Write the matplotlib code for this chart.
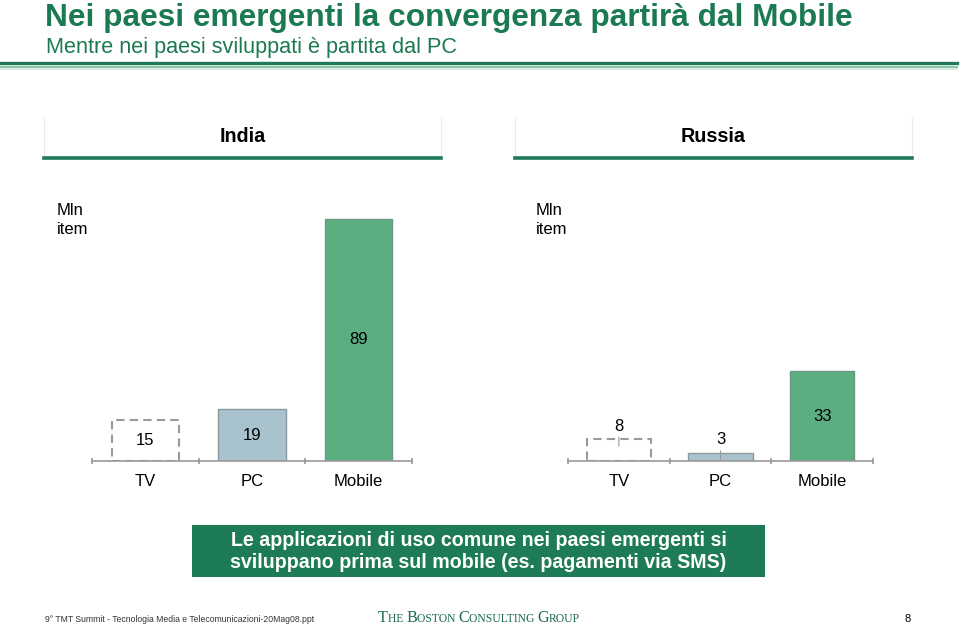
import matplotlib
matplotlib.use("Agg")
import matplotlib.pyplot as plt
from matplotlib.lines import Line2D
from matplotlib.patches import Rectangle

plt.rcParams['font.family'] = ['Liberation Sans', 'DejaVu Sans']

categories = ["TV", "PC", "Mobile"]
india_values = [15, 19, 89]
russia_values = [8, 3, 33]
panel_titles = ["India", "Russia"]
unit_label = "Mln\nitem"
title = "Nei paesi emergenti la convergenza partirà dal Mobile"
subtitle = "Mentre nei paesi sviluppati è partita dal PC"
box_text = "Le applicazioni di uso comune nei paesi emergenti si\nsviluppano prima sul mobile (es. pagamenti via SMS)"
footer_left = "9° TMT Summit - Tecnologia Media e Telecomunicazioni-20Mag08.ppt"
page_number = "8"

W, H = 960, 626
GREEN = "#1b7a52"
fig = plt.figure(figsize=(W / 100, H / 100), dpi=100)


def fx(x):
    return x / W


def fy(y):
    return 1 - y / H


# Title and subtitle
fig.text(fx(45), fy(26), title, fontsize=22.8, fontweight="bold", color=GREEN,
         ha="left", va="baseline")
fig.text(fx(46), fy(53.5), subtitle, fontsize=15.6, color=GREEN, ha="left", va="baseline")

# Title rule
fig.add_artist(Line2D([fx(0), fx(957)], [fy(63), fy(63)], color="#1f7a55", lw=2.4))
fig.add_artist(Line2D([fx(0), fx(957)], [fy(66.5), fy(66.5)], color="#8cc4a6", lw=1.5))
fig.add_artist(Line2D([fx(0), fx(957)], [fy(68.5), fy(68.5)], color="#d2e8dc", lw=1.2))

# Panel headers
headers = [(44, 441), (515, 912)]
for (x0, x1), name in zip(headers, panel_titles):
    for xv in (x0, x1):
        fig.add_artist(Line2D([fx(xv), fx(xv)], [fy(118), fy(157)], color="#ececec", lw=0.8))
    fig.add_artist(Line2D([fx(x0), fx(x1)], [fy(158), fy(158)], color="#1f7a58", lw=2.6))
    fig.text(fx((x0 + x1) / 2), fy(137), name, fontsize=14.2, fontweight="bold",
             color="black", ha="center", va="center")

# Unit labels
fig.text(fx(57), fy(220), unit_label, fontsize=12, ha="left", va="center", linespacing=1.35)
fig.text(fx(536), fy(220), unit_label, fontsize=12, ha="left", va="center", linespacing=1.35)

colors = ["white", "#a8c3ce", "#5aae80"]
edges = ["#9a9a9a", "#8c9aa0", "#6c9880"]
px_per_unit = 2.72
top_px = 200
base_px = 461


def draw_panel(xl, xr, values):
    ax = fig.add_axes([fx(xl), fy(base_px), (xr - xl) / W, (base_px - top_px) / H])
    ax.set_xlim(-0.5, 2.5)
    ax.set_ylim(0, (base_px - top_px) / px_per_unit)
    x = list(range(len(categories)))
    for i, v in enumerate(values):
        if i == 0:
            ax.bar(x[i], v, width=0.63, facecolor="white", edgecolor=edges[i],
                   linestyle=(0, (4, 2.5)), linewidth=1.5, zorder=2)
        else:
            ax.bar(x[i], v, width=0.63, color=colors[i], edgecolor=edges[i],
                   linewidth=1.0, zorder=2)
        if v >= 10:
            ax.text(x[i], v / 2, str(v), ha="center", va="center", fontsize=12, zorder=3)
        else:
            ax.annotate(str(v), xy=(x[i], v), xytext=(0, 13), textcoords="offset pixels",
                        ha="center", va="center", fontsize=12, zorder=3)
            ax.annotate("", xy=(x[i], v - 7 / px_per_unit), xytext=(0, 9),
                        textcoords="offset pixels",
                        arrowprops=dict(arrowstyle="-", color="#999999", lw=0.8,
                                        shrinkA=0, shrinkB=0), zorder=3)
    for s in ["top", "left", "right"]:
        ax.spines[s].set_visible(False)
    ax.spines["bottom"].set_color("#999999")
    ax.spines["bottom"].set_linewidth(1.2)
    ax.set_yticks([])
    ax.set_xticks(x)
    ax.set_xticklabels(categories, fontsize=12)
    ax.tick_params(axis="x", which="major", length=0, pad=9)
    ax.set_xticks([-0.5, 0.5, 1.5, 2.5], minor=True)
    ax.tick_params(axis="x", which="minor", length=5, width=1.2, color="#999999",
                   direction="inout")
    ax.patch.set_alpha(0)
    return ax


draw_panel(92, 412, india_values)
draw_panel(568, 873, russia_values)

# Green message box
fig.add_artist(Rectangle((fx(192), fy(577)), (765 - 192) / W, (577 - 525) / H,
                         transform=fig.transFigure, facecolor="#1d7b55", edgecolor="none"))
fig.text(fx(478.5), fy(551.5), box_text, fontsize=14.1, fontweight="bold", color="white",
         ha="center", va="center", linespacing=1.22)

# Footer
fig.text(fx(45), fy(619), footer_left, fontsize=6.2, color="#333333", ha="left", va="center")
fig.text(fx(908), fy(619), page_number, fontsize=8, color="black", ha="center", va="center")

# BCG logo in small caps
renderer = fig.canvas.get_renderer()
logo_parts = [("T", 11.6), ("HE ", 8.4), ("B", 11.6), ("OSTON ", 8.4), ("C", 11.6),
              ("ONSULTING ", 8.4), ("G", 11.6), ("ROUP", 8.4)]
xcur = 378
for txt, size in logo_parts:
    t = fig.text(fx(xcur), fy(622), txt, fontsize=size, family="Liberation Serif",
                 color="#1e6b4a", ha="left", va="baseline")
    bb = t.get_window_extent(renderer=renderer)
    xcur += bb.width

fig.savefig("out.png", dpi=100)
